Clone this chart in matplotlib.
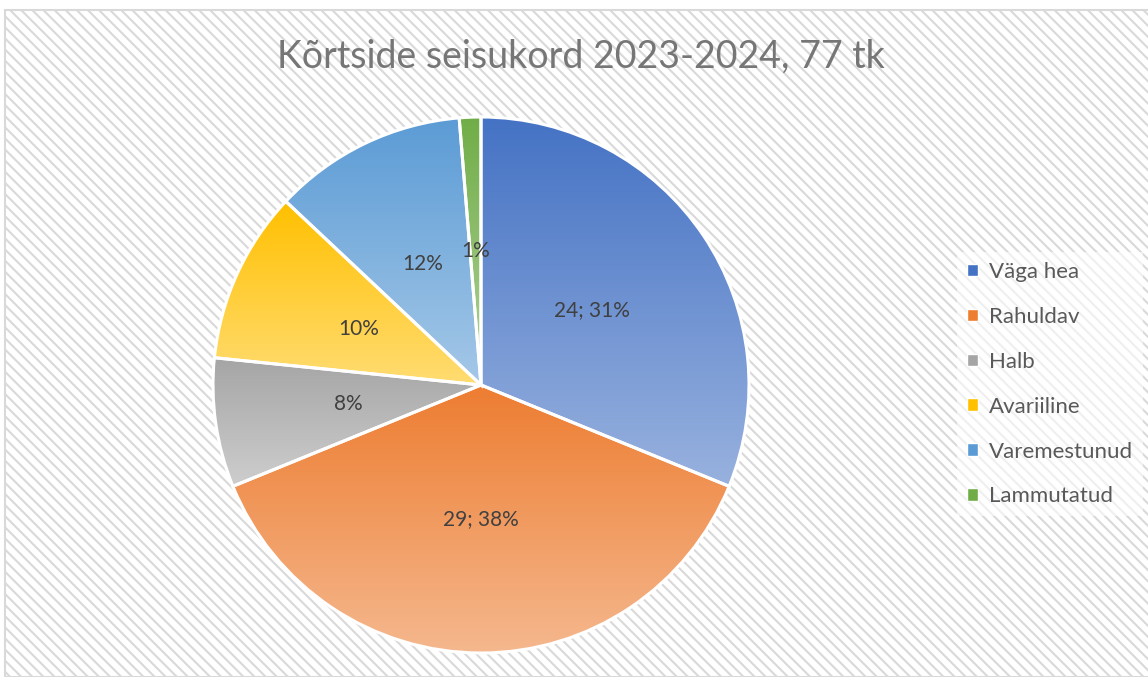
import numpy as np
import matplotlib
matplotlib.use("Agg")
import matplotlib.pyplot as plt
from matplotlib.patches import Rectangle, Patch
from matplotlib.colors import to_rgb

# andmed
categories = ["Väga hea", "Rahuldav", "Halb", "Avariiline", "Varemestunud", "Lammutatud"]
counts = [24, 29, 6, 8, 9, 1]
show_count = [True, True, False, False, False, False]
colors = ["#4472C4", "#ED7D31", "#A5A5A5", "#FFC000", "#5B9BD5", "#70AD47"]
title = "Kõrtside seisukord 2023-2024, 77 tk"

plt.rcParams['font.family'] = ['Lato', 'DejaVu Sans']
plt.rcParams['hatch.color'] = "#ebebeb"
plt.rcParams['hatch.linewidth'] = 1.5

W, H = 1148, 677
fig = plt.figure(figsize=(W / 100, H / 100), dpi=100)
fig.patch.set_facecolor("white")

# tausta raam + viirutus
bg = Rectangle((5 / W, 0), 1.2, (H - 10) / H, transform=fig.transFigure,
               facecolor="white", edgecolor="#d9d9d9", hatch="\\\\\\", lw=1.5, zorder=-5)
fig.patches.append(bg)

cx, cy, R = 481, H - 385, 268
ax = fig.add_axes([(cx - R) / W, (cy - R) / H, 2 * R / W, 2 * R / H])
ax.axis("off")
ax.patch.set_alpha(0)

total = sum(counts)
labels = []
for c, s in zip(counts, show_count):
    p = round(c / total * 100)
    labels.append(f"{c}; {p}%" if s else f"{p}%")

wedges, texts = ax.pie(counts, radius=1, startangle=90, counterclock=False,
                       labels=labels, labeldistance=0.5,
                       wedgeprops=dict(edgecolor="white", linewidth=2.2),
                       textprops=dict(color="#404040", fontsize=15, va="center"))
for t in texts:
    t.set_ha("center")
    t.set_zorder(5)

# gradient iga sektori sees: ülal täisvärv, all heledam
for w, col in zip(wedges, colors):
    verts = w.get_patch_transform().transform(w.get_path().vertices)
    ymin, ymax = verts[:, 1].min(), verts[:, 1].max()
    base = np.array(to_rgb(col))
    light = base + (1 - base) * 0.45
    g = np.linspace(0, 1, 256)[:, None]
    img = base[None, :] * (1 - g) + light[None, :] * g
    img = np.repeat(img[:, None, :], 2, axis=1)
    im = ax.imshow(img, extent=(-1, 1, ymin, ymax), origin="upper", aspect="auto",
                   zorder=1, interpolation="bilinear")
    im.set_clip_path(w)
    w.set_facecolor("none")
    w.set_zorder(3)

ax.set_xlim(-1, 1)
ax.set_ylim(-1, 1)

fig.text(581 / W, 1 - 57 / H, title, ha="center", va="center", fontsize=27, color="#767676")

handles = [Patch(facecolor=c, edgecolor="white") for c in colors]
leg = fig.legend(handles, categories, loc="upper left", bbox_to_anchor=(957 / W, 1 - 252 / H),
                 frameon=True, fontsize=16, handlelength=0.5, handleheight=0.5,
                 handletextpad=0.5, labelspacing=1.12, borderpad=0.45,
                 borderaxespad=0, fancybox=False)
leg.get_frame().set_facecolor("white")
leg.get_frame().set_alpha(0.6)
leg.get_frame().set_edgecolor("none")
for t in leg.get_texts():
    t.set_color("#595959")

fig.savefig("out.png", dpi=100)
